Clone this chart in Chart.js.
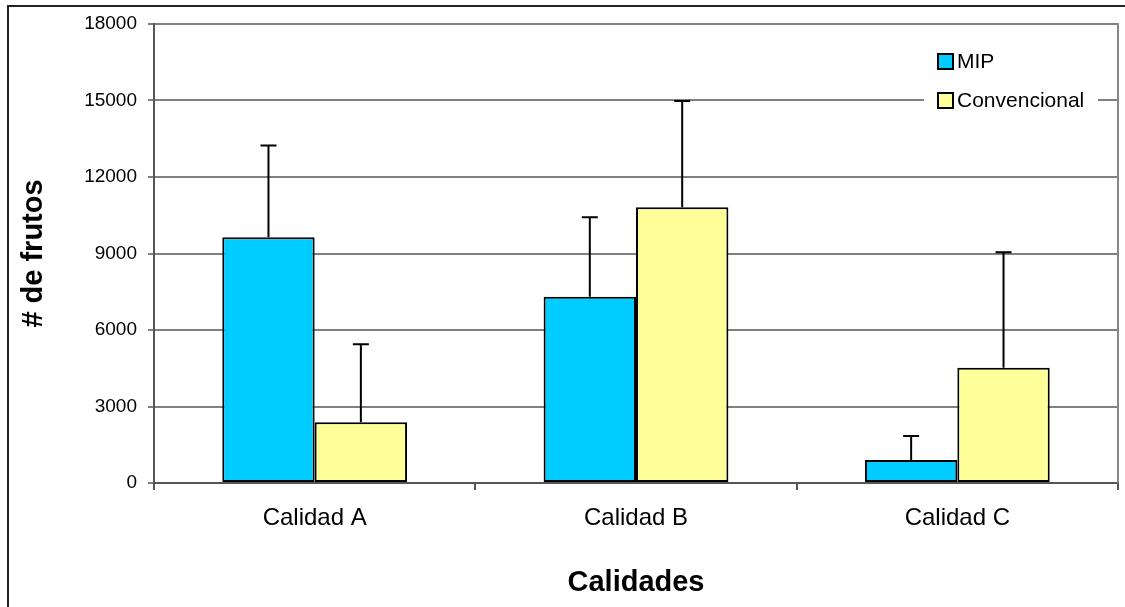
<!DOCTYPE html>
<html>
<head>
<meta charset="utf-8">
<script src="https://cdn.jsdelivr.net/npm/chart.js@4.4.1/dist/chart.umd.min.js"></script>
<style>
  html, body { margin: 0; padding: 0; background: #fff; }
  #wrap { width: 1125px; height: 607px; }
</style>
</head>
<body>
<div id="wrap"><canvas id="chart" width="1125" height="607"></canvas></div>
<script>
// data
const categories = ["Calidad A", "Calidad B", "Calidad C"];
const mipValues = [9640, 7300, 900];
const mipErrors = [3600, 3120, 940];
const convValues = [2380, 10810, 4520];
const convErrors = [3060, 4170, 4530];
const yTicks = [0, 3000, 6000, 9000, 12000, 15000, 18000];

const FONT = "'Liberation Sans', Arial, sans-serif";

// Frame round the whole chart + right edge of the plot area
const framePlugin = {
  id: 'frame',
  beforeDraw(chart) {
    const ctx = chart.ctx;
    ctx.save();
    ctx.fillStyle = '#fff';
    ctx.fillRect(0, 0, chart.width, chart.height);
    ctx.strokeStyle = '#222';
    ctx.lineWidth = 2;
    ctx.strokeRect(8, 6, chart.width + 20, chart.height + 20);
    ctx.restore();
  },
  afterDraw(chart) {
    const { ctx, chartArea } = chart;
    ctx.save();
    ctx.strokeStyle = '#888';
    ctx.lineWidth = 2;
    ctx.beginPath();
    ctx.moveTo(chartArea.right, chartArea.top - 1);
    ctx.lineTo(chartArea.right, chartArea.bottom);
    ctx.stroke();
    ctx.restore();
  }
};

// Positive error bars only
const errorBarPlugin = {
  id: 'errorBars',
  afterDatasetsDraw(chart) {
    const ctx = chart.ctx;
    const yScale = chart.scales.y;
    ctx.save();
    ctx.strokeStyle = '#000';
    ctx.lineWidth = 2;
    chart.data.datasets.forEach((ds, di) => {
      const meta = chart.getDatasetMeta(di);
      meta.data.forEach((bar, i) => {
        const top = yScale.getPixelForValue(ds.data[i] + ds.errors[i]);
        ctx.beginPath();
        ctx.moveTo(bar.x, bar.y);
        ctx.lineTo(bar.x, top);
        ctx.moveTo(bar.x - 8, top);
        ctx.lineTo(bar.x + 8, top);
        ctx.stroke();
      });
    });
    ctx.restore();
  }
};

// Legend inside the plot, top right
const legendPlugin = {
  id: 'innerLegend',
  afterDraw(chart) {
    const { ctx, chartArea } = chart;
    const x0 = chartArea.right - 194;
    const y0 = chartArea.top + 16;
    ctx.save();
    ctx.fillStyle = '#fff';
    ctx.fillRect(x0, y0, 174, 82);
    ctx.font = '21px ' + FONT;
    ctx.textBaseline = 'middle';
    chart.data.datasets.forEach((ds, i) => {
      const cy = y0 + 21 + i * 39;
      ctx.fillStyle = ds.backgroundColor;
      ctx.fillRect(x0 + 14, cy - 7, 15, 15);
      ctx.strokeStyle = '#000';
      ctx.lineWidth = 2;
      ctx.strokeRect(x0 + 14, cy - 7, 15, 15);
      ctx.fillStyle = '#000';
      ctx.fillText(ds.label, x0 + 33, cy + 1);
    });
    ctx.restore();
  }
};

new Chart(document.getElementById('chart').getContext('2d'), {
  type: 'bar',
  data: {
    labels: categories,
    datasets: [
      {
        label: 'MIP',
        data: mipValues,
        errors: mipErrors,
        backgroundColor: '#00CCFF',
        borderColor: '#000',
        borderWidth: 2,
        borderSkipped: false
      },
      {
        label: 'Convencional',
        data: convValues,
        errors: convErrors,
        backgroundColor: '#FFFF99',
        borderColor: '#000',
        borderWidth: 2,
        borderSkipped: false
      }
    ]
  },
  options: {
    responsive: false,
    animation: false,
    devicePixelRatio: 1,
    layout: { padding: { top: 24, right: 7, left: 0, bottom: 0 } },
    datasets: { bar: { categoryPercentage: 0.575, barPercentage: 1.0 } },
    plugins: {
      legend: { display: false },
      tooltip: { enabled: false }
    },
    scales: {
      x: {
        afterFit(scale) { scale.height = 124; },
        grid: {
          offset: true,
          drawOnChartArea: false,
          drawTicks: true,
          tickLength: 7,
          color: '#555',
          lineWidth: 2
        },
        border: { color: '#555', width: 2 },
        ticks: {
          color: '#000',
          font: { family: FONT, size: 24 },
          padding: 14,
          maxRotation: 0
        },
        title: {
          display: true,
          text: 'Calidades',
          color: '#000',
          font: { family: FONT, size: 29, weight: 'bold' },
          padding: { top: 0, bottom: 7 }
        }
      },
      y: {
        min: 0,
        max: 18000,
        afterFit(scale) { scale.width = 154; },
        afterBuildTicks(scale) { scale.ticks = yTicks.map(v => ({ value: v })); },
        grid: {
          color: '#808080',
          lineWidth: 2,
          tickLength: 6
        },
        border: { color: '#555', width: 2 },
        ticks: {
          color: '#000',
          font: { family: FONT, size: 19 },
          padding: 11,
          callback: v => String(v)
        },
        title: {
          display: true,
          text: '# de frutos',
          color: '#000',
          font: { family: FONT, size: 29, weight: 'bold' },
          padding: { top: 17, bottom: 0 }
        }
      }
    }
  },
  plugins: [framePlugin, errorBarPlugin, legendPlugin]
});
</script>
</body>
</html>
